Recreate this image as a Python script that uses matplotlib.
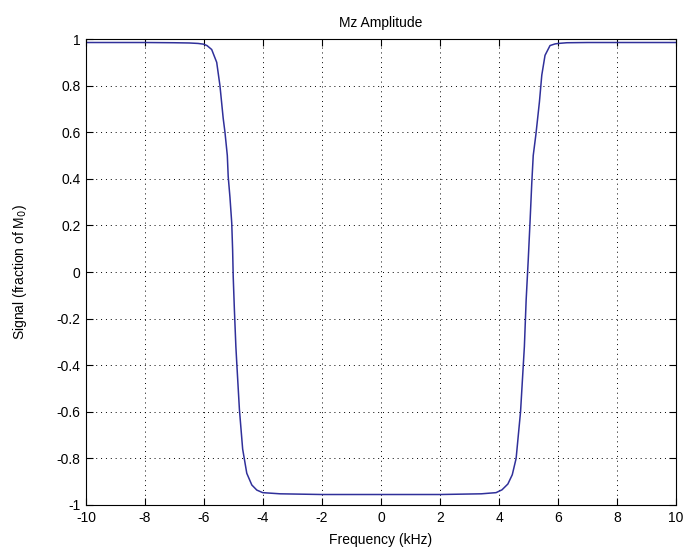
import matplotlib
matplotlib.use("Agg")
import matplotlib.pyplot as plt

plt.rcParams["font.family"] = ["Liberation Sans", "DejaVu Sans"]

# Mz amplitude (frequency in kHz, signal as fraction of M0)
freq = [-10.0, -8.0, -7.0, -6.5, -6.2, -6.02, -5.9, -5.74, -5.57, -5.46, -5.35,
        -5.29, -5.21, -5.18, -5.12, -5.06, -5.03, -5.01, -4.97, -4.92, -4.89,
        -4.80, -4.69, -4.55, -4.38, -4.21, -4.01, -3.42, -2.0, 0.0, 2.0, 3.4,
        3.9, 4.1, 4.3, 4.45, 4.58, 4.73, 4.86, 4.92, 4.99, 5.05, 5.11, 5.16,
        5.25, 5.37, 5.45, 5.56, 5.73, 5.9, 6.01, 6.3, 7.0, 8.0, 10.0]
signal = [0.985, 0.985, 0.984, 0.983, 0.981, 0.978, 0.972, 0.955, 0.90, 0.80, 0.66,
          0.60, 0.50, 0.41, 0.32, 0.21, 0.094, -0.02, -0.163, -0.32, -0.39,
          -0.59, -0.76, -0.864, -0.914, -0.936, -0.947, -0.952, -0.955, -0.955, -0.955, -0.952,
          -0.947, -0.935, -0.91, -0.87, -0.80, -0.60, -0.32, -0.12, 0.05, 0.21, 0.38, 0.50,
          0.59, 0.73, 0.845, 0.93, 0.972, 0.979, 0.981, 0.984, 0.985, 0.985, 0.985]

xticks = list(range(-10, 11, 2))
yticks = [-1, -0.8, -0.6, -0.4, -0.2, 0, 0.2, 0.4, 0.6, 0.8, 1]
ytick_labels = ["-1", "-0.8", "-0.6", "-0.4", "-0.2", "0", "0.2", "0.4", "0.6", "0.8", "1"]

fig = plt.figure(figsize=(6.87, 5.55), dpi=100)
ax = fig.add_axes([0.1252, 0.0901, 0.8588, 0.8396])

ax.plot(freq, signal, color="#30309a", linewidth=1.1)

ax.set_xlim(-10, 10)
ax.set_ylim(-1, 1)
ax.set_xticks(xticks)
ax.set_yticks(yticks)
ax.set_xticklabels([str(t) for t in xticks])
ax.set_yticklabels(ytick_labels)

ax.grid(True, color="black", linestyle=(0, (1, 4)), linewidth=0.7)
ax.tick_params(direction="in", length=5, width=0.8, top=True, right=True,
               labelsize=10, pad=4)
for s in ax.spines.values():
    s.set_linewidth(0.8)

ax.set_title("Mz Amplitude", fontsize=10, pad=9)
ax.set_xlabel("Frequency (kHz)", fontsize=10, labelpad=6)
ax.set_ylabel("Signal (fraction of M$_0$)", fontsize=10, labelpad=20)

fig.savefig("out.png", dpi=100)
